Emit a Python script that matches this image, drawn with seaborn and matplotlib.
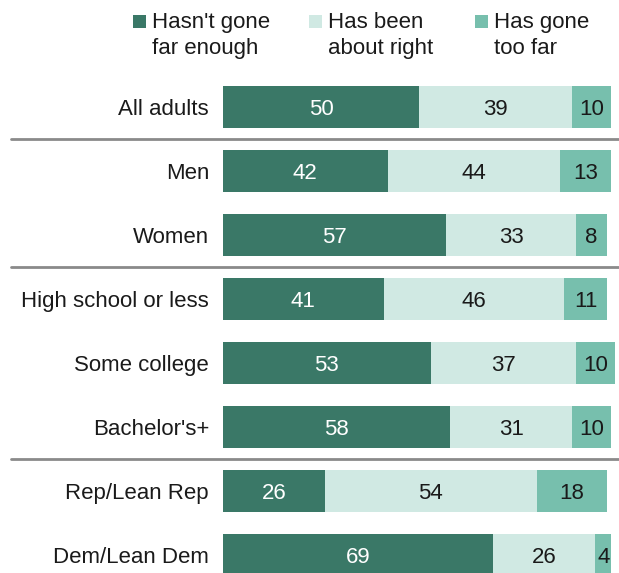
import numpy as np
import pandas as pd
import seaborn as sns
import matplotlib.pyplot as plt
from matplotlib.patches import Rectangle

categories = ["All adults", "Men", "Women", "High school or less", "Some college",
              "Bachelor's+", "Rep/Lean Rep", "Dem/Lean Dem"]
not_far_enough = [50, 42, 57, 41, 53, 58, 26, 69]
about_right = [39, 44, 33, 46, 37, 31, 54, 26]
too_far = [10, 13, 8, 11, 10, 10, 18, 4]

series_names = ["Hasn't gone\nfar enough", "Has been\nabout right", "Has gone\ntoo far"]
colors = ["#3a7867", "#d0e9e3", "#77bfad"]
text_colors = ["white", "#1a1a1a", "#1a1a1a"]
separators_after = [0, 2, 5]

sns.set_theme(style="white")
plt.rcParams['font.family'] = ['Liberation Sans', 'DejaVu Sans']

df = pd.DataFrame({
    "group": categories,
    "s1": not_far_enough,
    "s2": about_right,
    "s3": too_far,
})
df["c1"] = df["s1"]
df["c2"] = df["s1"] + df["s2"]
df["c3"] = df["s1"] + df["s2"] + df["s3"]

W, H = 619, 573
fig = plt.figure(figsize=(W / 100, H / 100), dpi=100)
ax = fig.add_axes([223 / W, 0, 392 / W, 1])

# stacked bars drawn back to front as cumulative totals
for col, c in zip(["c3", "c2", "c1"], colors[::-1]):
    sns.barplot(data=df, x=col, y="group", color=c, saturation=1, width=0.66,
                linewidth=0, orient="h", ax=ax)

ax.set_xlim(0, 100)
ax.set_ylim((H - 107) / 64, -107 / 64)

# value labels
for i, row in df.iterrows():
    left = 0
    for k, v in enumerate([row["s1"], row["s2"], row["s3"]]):
        ax.text(left + v / 2, i, f"{v}", ha="center", va="center_baseline",
                fontsize=16, color=text_colors[k])
        left += v

# group separators
for s in separators_after:
    ax.plot([-0.541, 1.1], [s + 0.5, s + 0.5], color="#8a8a8a", lw=2,
            transform=ax.get_yaxis_transform(), clip_on=False)

ax.set_xlabel("")
ax.set_ylabel("")
ax.set_xticks([])
ax.tick_params(axis="y", length=0, pad=10, labelsize=16, labelcolor="#1a1a1a")
sns.despine(ax=ax, left=True, bottom=True)

# legend
legend_x = [133, 309, 475]
for x, name, c in zip(legend_x, series_names, colors):
    fig.patches.append(Rectangle((x / W, 1 - 28 / H), 13 / W, 13 / H,
                                 transform=fig.transFigure, color=c, lw=0))
    fig.text((x + 19) / W, 1 - 12 / H, name, ha="left", va="top",
             fontsize=16, color="#1a1a1a", linespacing=1.3)

fig.savefig("out.png", dpi=100)
